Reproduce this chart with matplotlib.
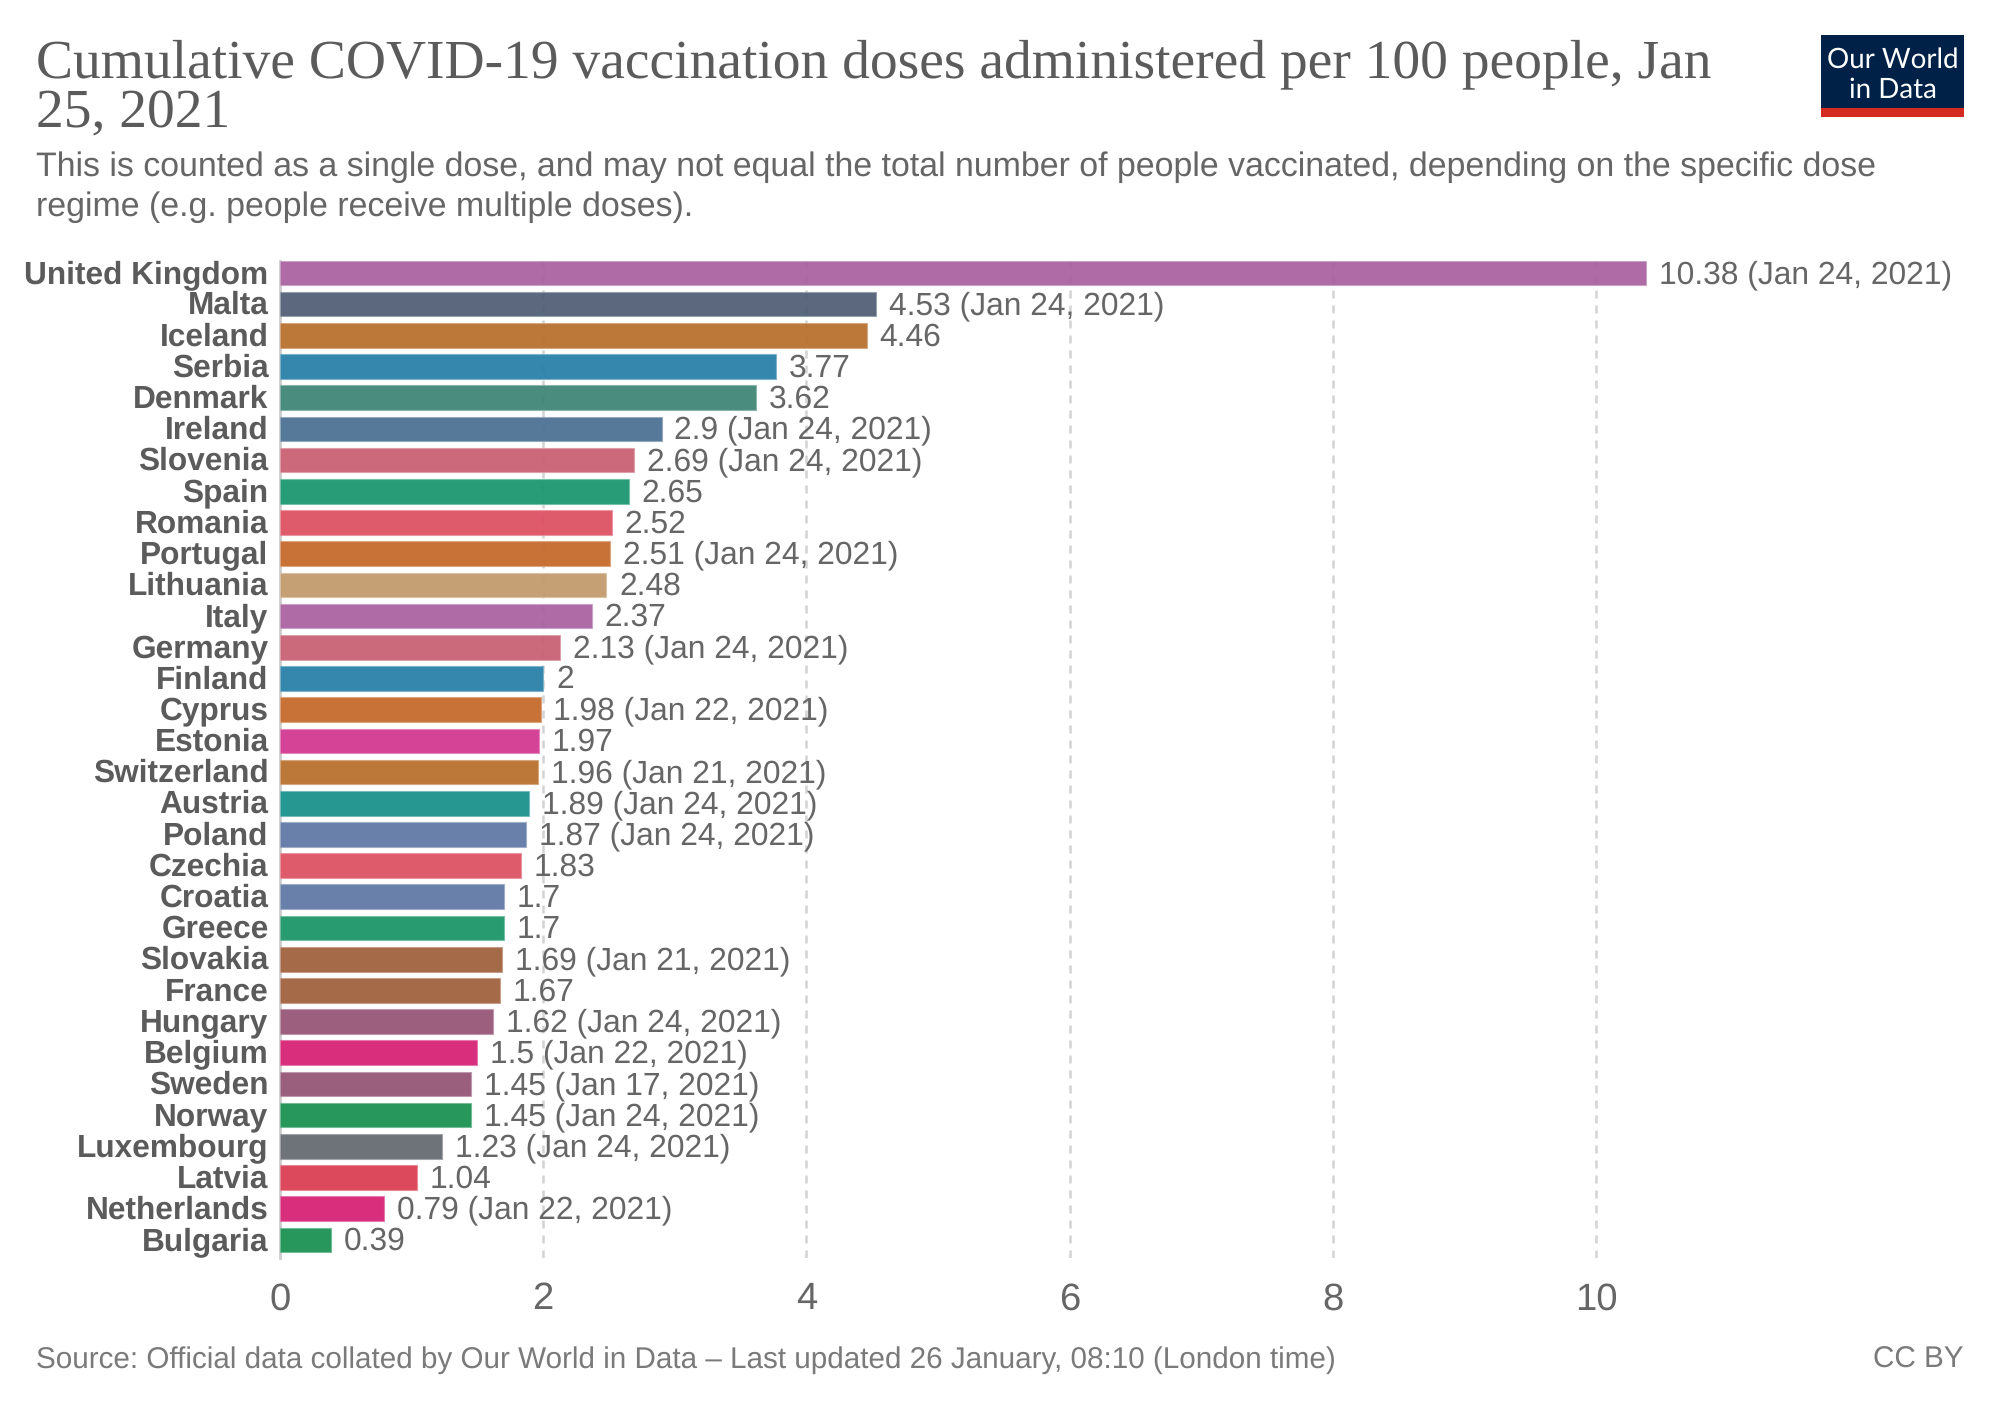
import matplotlib
matplotlib.use("Agg")
import matplotlib.pyplot as plt
from matplotlib.colors import to_rgb
from matplotlib.patches import Rectangle
from matplotlib.transforms import ScaledTranslation

# --- data ---
countries = ["United Kingdom", "Malta", "Iceland", "Serbia", "Denmark", "Ireland", "Slovenia", "Spain",
             "Romania", "Portugal", "Lithuania", "Italy", "Germany", "Finland", "Cyprus", "Estonia",
             "Switzerland", "Austria", "Poland", "Czechia", "Croatia", "Greece", "Slovakia", "France",
             "Hungary", "Belgium", "Sweden", "Norway", "Luxembourg", "Latvia", "Netherlands", "Bulgaria"]
doses = [10.38, 4.53, 4.46, 3.77, 3.62, 2.9, 2.69, 2.65,
         2.52, 2.51, 2.48, 2.37, 2.13, 2, 1.98, 1.97,
         1.96, 1.89, 1.87, 1.83, 1.7, 1.7, 1.69, 1.67,
         1.62, 1.5, 1.45, 1.45, 1.23, 1.04, 0.79, 0.39]
dates = ["Jan 24, 2021", "Jan 24, 2021", "", "", "", "Jan 24, 2021", "Jan 24, 2021", "",
         "", "Jan 24, 2021", "", "", "Jan 24, 2021", "", "Jan 22, 2021", "",
         "Jan 21, 2021", "Jan 24, 2021", "Jan 24, 2021", "", "", "", "Jan 21, 2021", "",
         "Jan 24, 2021", "Jan 22, 2021", "Jan 17, 2021", "Jan 24, 2021", "Jan 24, 2021", "", "Jan 22, 2021", ""]
bar_colors = ["#AE6BA6", "#5A687D", "#BC7838", "#3487AD", "#4A8C7D", "#56799B", "#CC6A7B", "#279C76",
              "#DE5A6C", "#C97238", "#C5A075", "#AE6BA6", "#CB6A7B", "#3487AD", "#C97238", "#D54296",
              "#BC7838", "#259791", "#6880AA", "#DE5A6C", "#6880AA", "#279C70", "#A56A48", "#A56A48",
              "#9C5F7D", "#D92E7C", "#9A5F7D", "#26975C", "#6E7279", "#DD485C", "#D92E7C", "#26975C"]
x_ticks = [0, 2, 4, 6, 8, 10]

W, H = 2000, 1412
TEXT_DARK = "#5b5b5b"
TEXT_MID = "#666666"
TEXT_SOFT = "#7a7a7a"

plt.rcParams["font.family"] = ["Liberation Sans", "DejaVu Sans"]
plt.rcParams["text.hinting"] = "no_hinting"  # widths scale evenly with font size


def fx(px):
    return px / W


def fy(py):
    return 1 - py / H


def put(px, py, s, **kw):
    # place figure text by pixel position, y is the baseline
    fig.text(fx(px), fy(py), s, va="baseline", **kw)


fig = plt.figure(figsize=(W / 100, H / 100), dpi=100, facecolor="white")

# --- axes: pixel box ---
left, right, top, bottom = 280, 1964, 260.5, 1258
ax = fig.add_axes([fx(left), fy(bottom), fx(right - left), (bottom - top) / H])
ax.set_xlim(0, (right - left) / 131.6)
ax.set_ylim(31.58, -0.4)
for side in ["top", "right", "bottom"]:
    ax.spines[side].set_visible(False)
ax.spines["left"].set_color("#cccccc")
ax.spines["left"].set_linewidth(2)
ax.spines["left"].set_zorder(1)

ax.set_xticks(x_ticks)
ax.set_xticklabels([str(t) for t in x_ticks], fontsize=27.5, color=TEXT_MID)
ax.tick_params(axis="x", length=0, pad=17)
for t in x_ticks[1:]:
    ax.axvline(t, color="#d3d3d3", lw=1.8, dashes=(3.2, 2.8), zorder=1)

# bars sit a little see-through so the grid shows faintly
alpha = 0.93
fills = []
edges = []
for c in bar_colors:
    rgb = to_rgb(c)
    fills.append(tuple(max(0, (v - (1 - alpha)) / alpha) for v in rgb))
    edges.append(tuple(v + (1 - v) * 0.35 for v in rgb))
y_pos = list(range(len(countries)))
ax.barh(y_pos, doses, height=0.79, color=fills, alpha=alpha, edgecolor=edges, linewidth=0.8, zorder=2)

ax.set_yticks(y_pos)
ax.set_yticklabels(countries, fontsize=22.8, fontweight="bold", color=TEXT_DARK)
ax.tick_params(axis="y", length=0, pad=8.2)
# country names sit slightly above the bar centres in the original
lift = ScaledTranslation(0, 1.2 / 72, fig.dpi_scale_trans)
for lab in ax.get_yticklabels():
    lab.set_transform(lab.get_transform() + lift)

for i, (v, d) in enumerate(zip(doses, dates)):
    label = f"{v} ({d})" if d else f"{v}"
    ax.annotate(label, (v, i), xytext=(9.2, 1.2), textcoords="offset points",
                va="center_baseline", ha="left", fontsize=22.9, color=TEXT_MID, zorder=3)

# --- header ---
title_font = dict(family=["Liberation Serif", "DejaVu Serif"], fontsize=39.95, color=TEXT_DARK)
put(36, 77, "Cumulative COVID-19 vaccination doses administered per 100 people, Jan", **title_font)
put(36, 128, "25, 2021", **title_font)
put(36, 176, "This is counted as a single dose, and may not equal the total number of people vaccinated, "
             "depending on the specific dose", fontsize=24.4, color=TEXT_MID)
put(36, 216, "regime (e.g. people receive multiple doses).", fontsize=24.4, color=TEXT_MID)

# --- footer ---
put(36, 1368, "Source: Official data collated by Our World in Data \u2013 Last updated 26 January, 08:10 (London time)",
    fontsize=21.3, color=TEXT_SOFT)
put(1964, 1368, "CC BY", fontsize=21.3, color=TEXT_SOFT, ha="right")

# --- logo ---
fig.add_artist(Rectangle((fx(1821), fy(117)), 143 / W, 82 / H, transform=fig.transFigure, color="#002147", lw=0))
fig.add_artist(Rectangle((fx(1821), fy(117)), 143 / W, 9 / H, transform=fig.transFigure, color="#D42B21", lw=0))
put(1892.5, 68, "Our World", family="Lato", fontsize=20, color="white", ha="center")
put(1892.5, 98, "in Data", family="Lato", fontsize=20, color="white", ha="center")

fig.savefig("out.png", dpi=100)
